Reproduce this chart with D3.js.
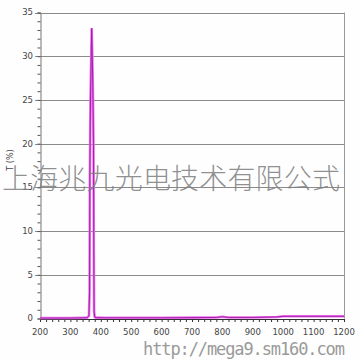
<!DOCTYPE html>
<html>
<head>
<meta charset="utf-8">
<script src="https://cdn.jsdelivr.net/npm/d3@7"></script>
<style>
  html, body { margin: 0; padding: 0; background: #fefefe; }
  svg { display: block; }
</style>
</head>
<body>
<script>
// wavelength (nm) and transmittance T (%)
var wavelength = [200, 250, 300, 340, 355, 361, 363, 364, 366, 368, 370, 372, 374, 376, 377, 378, 380, 385, 420, 500, 600, 700, 780, 800, 820, 900, 980, 1000, 1100, 1200];
var transmit   = [0.05, 0.05, 0.05, 0.08, 0.1, 0.3, 3, 16, 25, 29, 33.2, 30, 26, 20, 8, 0.8, 0.15, 0.1, 0.08, 0.08, 0.08, 0.1, 0.12, 0.2, 0.12, 0.12, 0.18, 0.25, 0.25, 0.25];
var xTicks = [200, 300, 400, 500, 600, 700, 800, 900, 1000, 1100, 1200];
var yTicks = [0, 5, 10, 15, 20, 25, 30, 35];
var yLabel = 'T (%)';
var watermark = '上海兆九光电技术有限公式';
var siteUrl = 'http://mega9.sm160.com';

var width = 360;
var height = 360;
var margin = { top: 12.5, right: 16, bottom: 41.5, left: 40 };

var svg = d3.select('body').append('svg').attr('width', width).attr('height', height);

var xScale = d3.scaleLinear()
    .domain([200, 1200])
    .range([margin.left, width - margin.right]);

var yScale = d3.scaleLinear()
    .domain([0, 35])
    .range([height - margin.bottom, margin.top]);

// grid lines
svg.append('g')
    .selectAll('line')
    .data(yTicks.slice(1))
    .enter()
    .append('line')
    .attr('x1', margin.left - 5)
    .attr('x2', width - margin.right)
    .attr('y1', function (d) { return Math.round(yScale(d)) + 0.5; })
    .attr('y2', function (d) { return Math.round(yScale(d)) + 0.5; })
    .attr('stroke', '#8a8a8a')
    .attr('stroke-width', 1);

// right border
svg.append('line')
    .attr('x1', width - margin.right + 0.5)
    .attr('x2', width - margin.right + 0.5)
    .attr('y1', margin.top)
    .attr('y2', height - margin.bottom)
    .attr('stroke', '#9a9a9a');

// y axis (minor ticks every 1)
var yAxis = d3.axisLeft(yScale)
    .tickValues(d3.range(0, 36, 1))
    .tickSize(3)
    .tickFormat('');
var gy = svg.append('g')
    .attr('transform', 'translate(' + (margin.left + 0.5) + ',0)')
    .call(yAxis);
gy.select('.domain').attr('stroke', '#777');
gy.selectAll('.tick line').attr('stroke', '#555');

svg.append('g')
    .selectAll('text')
    .data(yTicks)
    .enter()
    .append('text')
    .attr('x', 33)
    .attr('y', function (d) { return yScale(d); })
    .attr('dy', '0.35em')
    .attr('text-anchor', 'end')
    .attr('font-family', 'DejaVu Sans, sans-serif')
    .attr('font-size', 8.5)
    .attr('fill', '#444')
    .text(function (d) { return d; });

// x axis (minor ticks every 20)
var xAxis = d3.axisBottom(xScale)
    .tickValues(d3.range(200, 1201, 20))
    .tickSize(3)
    .tickFormat('');
var gx = svg.append('g')
    .attr('transform', 'translate(0,' + (height - margin.bottom + 0.5) + ')')
    .call(xAxis);
gx.select('.domain').attr('stroke', '#333');
gx.selectAll('.tick line').attr('stroke', '#333');

svg.append('g')
    .selectAll('text')
    .data(xTicks)
    .enter()
    .append('text')
    .attr('x', function (d) { return xScale(d); })
    .attr('y', 332)
    .attr('dy', '0.35em')
    .attr('text-anchor', 'middle')
    .attr('font-family', 'DejaVu Sans, sans-serif')
    .attr('font-size', 8.5)
    .attr('fill', '#444')
    .text(function (d) { return d; });

// y label
svg.append('text')
    .attr('transform', 'translate(10,160) rotate(-90)')
    .attr('text-anchor', 'middle')
    .attr('dy', '0.35em')
    .attr('font-family', 'DejaVu Sans, sans-serif')
    .attr('font-size', 8)
    .attr('fill', '#444')
    .text(yLabel);

// spectrum
var line = d3.line()
    .x(function (d, i) { return xScale(wavelength[i]); })
    .y(function (d) { return yScale(d); });

svg.append('path')
    .datum(transmit)
    .attr('d', line)
    .attr('fill', 'none')
    .attr('stroke', '#f070f0')
    .attr('stroke-width', 2.6);

svg.append('path')
    .datum(transmit)
    .attr('d', line)
    .attr('fill', 'none')
    .attr('stroke', '#a020a8')
    .attr('stroke-width', 1);

// watermark
svg.append('text')
    .attr('x', 2)
    .attr('y', 179)
    .attr('dy', '0.35em')
    .attr('font-family', 'Noto Sans CJK SC, sans-serif')
    .attr('font-weight', 300)
    .attr('font-size', 28)
    .attr('textLength', 338)
    .attr('fill', '#7c7c7c')
    .attr('fill-opacity', 0.85)
    .text(watermark);

svg.append('text')
    .attr('x', 143)
    .attr('y', 349)
    .attr('dy', '0.35em')
    .attr('font-family', 'DejaVu Sans Mono, monospace')
    .attr('font-size', 17)
    .attr('textLength', 202)
    .attr('fill', '#9a9a9a')
    .text(siteUrl);
</script>
</body>
</html>
